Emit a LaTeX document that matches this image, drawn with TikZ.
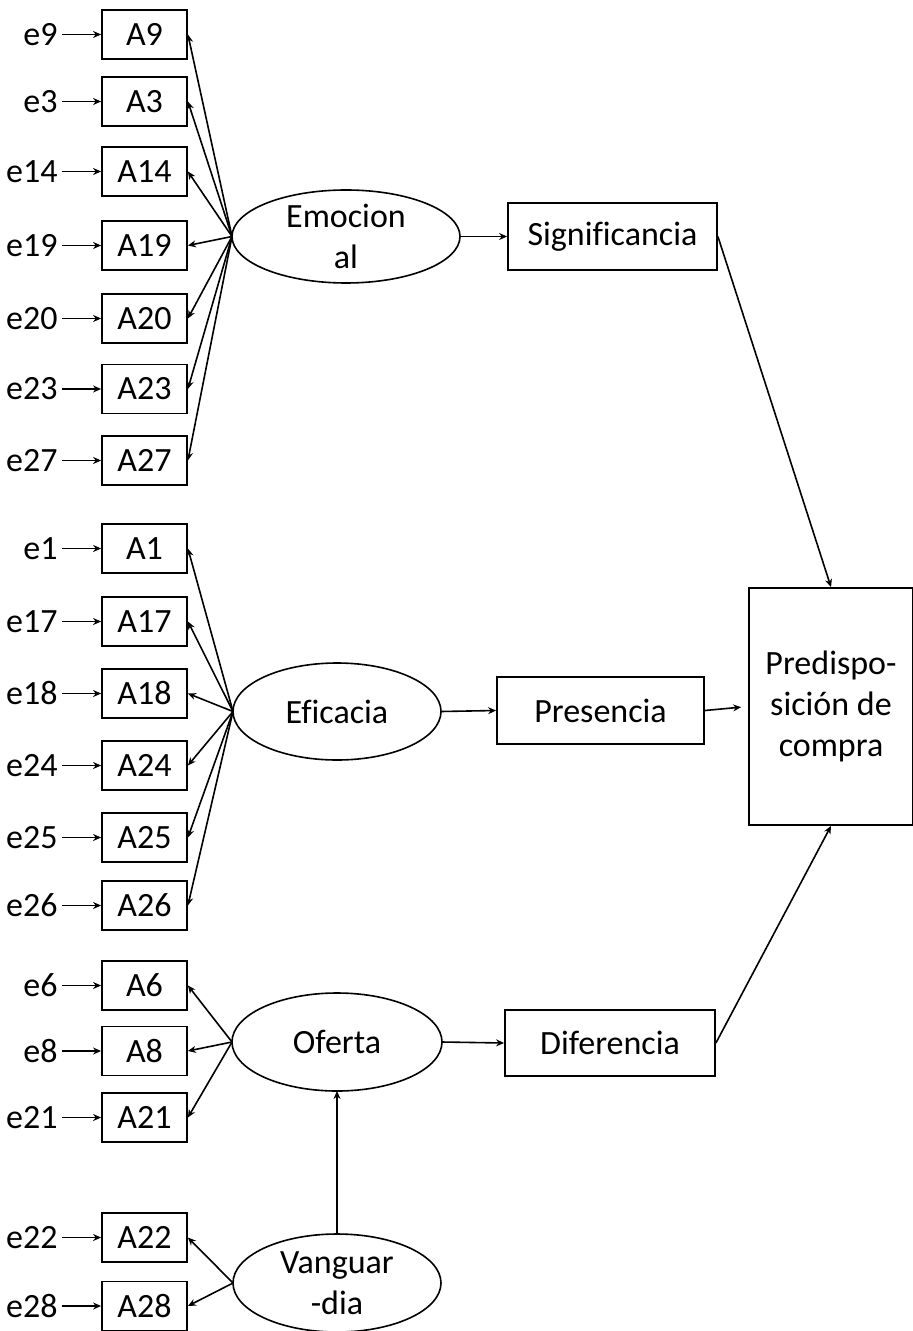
\documentclass[tikz,border=0pt]{standalone}
\usepackage{fontspec}
\setmainfont{Carlito}[Ligatures=NoCommon]
\usetikzlibrary{shapes.geometric, arrows.meta, positioning}
\newcommand{\semfont}{\fontsize{17}{20.5}\selectfont}
\tikzset{
  indbox/.style={rectangle, draw, line width=0.9pt,
    minimum width=42.5pt, minimum height=24.5pt, inner sep=0pt},
  errlabel/.style={anchor=east, inner sep=2pt},
  latent/.style={ellipse, draw, line width=0.8pt, align=center,
    inner sep=0pt, outer sep=0pt},
  dimbox/.style={rectangle, draw, line width=0.9pt,
    minimum width=104.5pt, minimum height=33.5pt, inner sep=0pt},
  arrow/.style={-{Stealth[length=4pt, width=3.5pt]}, line width=0.8pt}
}

\begin{document}
\begin{tikzpicture}[x=0.5pt, y=-0.5pt, every node/.style={font=\semfont}]
  \useasboundingbox (0,0) rectangle (912,1331);

  % Latent factors
  \node[latent, minimum width=114pt, minimum height=46.5pt] (emo) at (346,236.5) {Emocion\\al};
  \node[latent, minimum width=104pt, minimum height=48.5pt] (efi) at (337,711.5) {Eficacia};
  \node[latent, minimum width=105pt, minimum height=49pt] (ofe) at (337,1042) {Oferta};
  \node[latent, minimum width=104pt, minimum height=49pt] (van) at (337,1283) {Vanguar\\-dia};

  % Indicators with their errors
  \foreach \i/\y/\f in {9/34.5/emo, 3/101.5/emo, 14/171.5/emo, 19/245.5/emo,
      20/318.5/emo, 23/389/emo, 27/460.5/emo,
      1/548.5/efi, 17/621.5/efi, 18/693.5/efi, 24/765.5/efi, 25/837.5/efi, 26/905.5/efi,
      6/985.5/ofe, 8/1051/ofe, 21/1117.5/ofe,
      22/1237.5/van, 28/1306/van}{
    \node[indbox] (a\i) at (144.5,\y) {A\i};
    \node[errlabel] (e\i) at (62,\y) {e\i};
    \draw[arrow] (e\i.east) -- (a\i.west);
    \draw[arrow] (\f.west) -- (a\i.east);
  }

  % Dimensions
  \node[dimbox] (sig) at (612.5,236.5) {Significancia};
  \node[dimbox, minimum width=103.5pt] (pre) at (600.5,710.5) {Presencia};
  \node[dimbox, minimum width=105pt, minimum height=33pt] (dif) at (610,1043) {Diferencia};

  % Outcome
  \node[rectangle, draw, line width=0.9pt, minimum width=82pt, minimum height=118.5pt,
    align=center, inner sep=0pt] (pdc) at (831,706.5) {Predispo-\\sición de\\compra};

  \draw[arrow] (emo.east) -- (sig.west);
  \draw[arrow] (efi.east) -- (pre.west);
  \draw[arrow] (ofe.east) -- (dif.west);
  \draw[arrow] (van.north) -- (ofe.south);
  \draw[arrow] (sig.east) -- (pdc.north);
  \draw[arrow, shorten >=3.5pt] (pre.east) -- (pdc.west);
  \draw[arrow] (dif.east) -- (pdc.south);
\end{tikzpicture}
\end{document}
